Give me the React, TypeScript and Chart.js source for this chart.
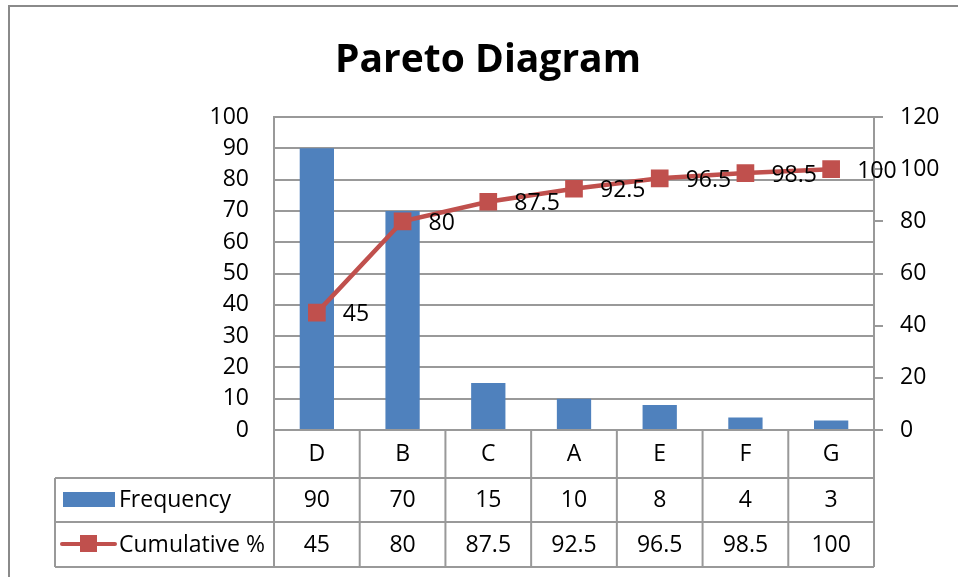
import React, { useEffect, useRef } from "react";
import { Chart, registerables } from "chart.js";

Chart.register(...registerables);

const categories = ["D", "B", "C", "A", "E", "F", "G"];
const frequency = [90, 70, 15, 10, 8, 4, 3];
const cumulative = [45, 80, 87.5, 92.5, 96.5, 98.5, 100];
const cumulativeLabels = ["45", "80", "87.5", "92.5", "96.5", "98.5", "100"];
const frequencyLabels = ["90", "70", "15", "10", "8", "4", "3"];
const titleText = "Pareto Diagram";
const seriesNames = ["Frequency", "Cumulative %"];

const BLUE = "#4F81BD";
const RED = "#C0504D";
const GRID = "#999999";
const FONT = "'Open Sans', sans-serif";
const FS = 23;

export default function App() {
  const ref = useRef<HTMLCanvasElement | null>(null);

  useEffect(() => {
    if (!ref.current) return;

    const decor = {
      id: "decor",
      beforeDraw(chart: any) {
        const ctx = chart.ctx;
        ctx.save();
        ctx.fillStyle = "#ffffff";
        ctx.fillRect(0, 0, chart.width, chart.height);
        ctx.strokeStyle = "#8a8a8a";
        ctx.lineWidth = 2;
        ctx.strokeRect(9, 6, chart.width + 20, chart.height + 20);
        ctx.fillStyle = "#000";
        ctx.font = `bold 39px ${FONT}`;
        ctx.textAlign = "center";
        ctx.textBaseline = "alphabetic";
        ctx.fillText(titleText, 488, 72);
        ctx.restore();
      },
      afterDraw(chart: any) {
        const ctx = chart.ctx;
        const area = chart.chartArea;
        const xs = chart.scales.x;
        const n = categories.length;
        const w = area.width / n;
        const bounds: number[] = [];
        for (let k = 0; k <= n; k++) bounds.push(area.left + k * w);
        const catTop = area.bottom;
        const rowTop = 478;
        const row2 = 522;
        const rowBottom = 567;
        const tableLeft = 55;

        ctx.save();
        ctx.strokeStyle = GRID;
        ctx.lineWidth = 2;
        ctx.beginPath();
        for (const b of bounds) {
          ctx.moveTo(b, catTop);
          ctx.lineTo(b, rowBottom);
        }
        for (const y of [rowTop, row2, rowBottom]) {
          ctx.moveTo(tableLeft, y);
          ctx.lineTo(area.right, y);
        }
        ctx.moveTo(tableLeft, rowTop);
        ctx.lineTo(tableLeft, rowBottom);
        ctx.stroke();

        ctx.fillStyle = "#000";
        ctx.font = `${FS}px ${FONT}`;
        ctx.textAlign = "center";
        ctx.textBaseline = "middle";
        for (let i = 0; i < n; i++) {
          const cx = xs.getPixelForValue(i);
          ctx.fillText(categories[i], cx, 454);
          ctx.fillText(frequencyLabels[i], cx, 500);
          ctx.fillText(cumulativeLabels[i], cx, 545);
        }

        ctx.fillStyle = BLUE;
        ctx.fillRect(63, 492, 52, 15);
        ctx.strokeStyle = RED;
        ctx.lineWidth = 4;
        ctx.lineCap = "round";
        ctx.beginPath();
        ctx.moveTo(62, 544);
        ctx.lineTo(115, 544);
        ctx.stroke();
        ctx.fillStyle = RED;
        ctx.fillRect(80, 535, 17, 17);
        ctx.fillStyle = "#000";
        ctx.textAlign = "left";
        ctx.fillText(seriesNames[0], 119, 500);
        ctx.fillText(seriesNames[1], 119, 545);

        const meta = chart.getDatasetMeta(1);
        ctx.textAlign = "left";
        ctx.textBaseline = "middle";
        meta.data.forEach((pt: any, i: number) => {
          ctx.fillText(cumulativeLabels[i], pt.x + 26, pt.y + 2);
        });
        ctx.restore();
      },
    };

    const chart = new Chart(ref.current, {
      type: "bar",
      data: {
        labels: categories,
        datasets: [
          {
            type: "bar",
            label: seriesNames[0],
            data: frequency,
            yAxisID: "y",
            backgroundColor: BLUE,
            borderWidth: 0,
            categoryPercentage: 1,
            barPercentage: 0.4,
            order: 2,
          },
          {
            type: "line",
            label: seriesNames[1],
            data: cumulative,
            yAxisID: "y1",
            borderColor: RED,
            backgroundColor: RED,
            borderWidth: 4.5,
            pointStyle: "rect",
            pointRadius: 12.5,
            pointBorderWidth: 0,
            pointBackgroundColor: RED,
            tension: 0,
            order: 1,
          } as any,
        ],
      },
      options: {
        responsive: false,
        animation: false,
        layout: { padding: { top: 117, left: 0, right: 0, bottom: 0 } },
        plugins: {
          legend: { display: false },
          title: { display: false },
          tooltip: { enabled: false },
        },
        scales: {
          x: {
            offset: true,
            grid: { display: false },
            border: { display: true, color: GRID, width: 2 },
            ticks: { display: false },
            afterFit: (s: any) => {
              s.height = 147;
            },
          },
          y: {
            position: "left",
            min: 0,
            max: 100,
            ticks: {
              stepSize: 10,
              color: "#000",
              font: { family: "'Open Sans', sans-serif", size: FS },
              padding: 25,
            },
            grid: { color: GRID, lineWidth: 2, drawTicks: false },
            border: { display: true, color: GRID, width: 2 },
            afterFit: (s: any) => {
              s.width = 274;
            },
          },
          y1: {
            position: "right",
            min: 0,
            max: 120,
            ticks: {
              stepSize: 20,
              color: "#000",
              font: { family: "'Open Sans', sans-serif", size: FS },
              padding: 17,
            },
            grid: {
              drawOnChartArea: false,
              color: GRID,
              lineWidth: 2,
              tickLength: 9,
            },
            border: { display: true, color: GRID, width: 2 },
            afterFit: (s: any) => {
              s.width = 84;
            },
          },
        },
      },
      plugins: [decor],
    });

    return () => chart.destroy();
  }, []);

  return (
    <div style={{ position: "absolute", left: 0, top: 0, width: 958, height: 577 }}>
      <canvas ref={ref} width={958} height={577} style={{ display: "block" }} />
    </div>
  );
}
